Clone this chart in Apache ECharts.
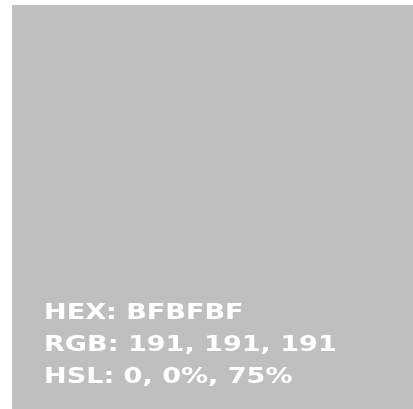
<!DOCTYPE html>
<html>
<head>
<meta charset="utf-8">
<script src="https://cdn.jsdelivr.net/npm/echarts@6/dist/echarts.min.js"></script>
<style>
  html, body { margin: 0; padding: 0; background: #fff; }
  #main { width: 413px; height: 409px; }
</style>
</head>
<body>
<div id="main"></div>
<script>
// swatch colour and its labels
var swatchColor = ['#BFBFBF'];
var labelNames = ['HEX', 'RGB', 'HSL'];
var labelValues = ['BFBFBF', '191, 191, 191', '0, 0%, 75%'];

var chart = echarts.init(document.getElementById('main'));

var elements = [{
  type: 'rect',
  shape: { x: 12, y: 5, width: 401, height: 404 },
  style: { fill: swatchColor[0] }
}];

labelNames.forEach(function (name, i) {
  elements.push({
    type: 'text',
    x: 44,
    y: 313 + i * 32,
    scaleX: 1.23,
    style: {
      text: name + ': ' + labelValues[i],
      fill: '#ffffff',
      font: 'bold 22px "DejaVu Sans"',
      textVerticalAlign: 'middle',
      verticalAlign: 'middle'
    }
  });
});

chart.setOption({
  backgroundColor: '#ffffff',
  animation: false,
  graphic: { elements: elements }
});
window.addEventListener('resize', function () { chart.resize(); });
</script>
</body>
</html>
